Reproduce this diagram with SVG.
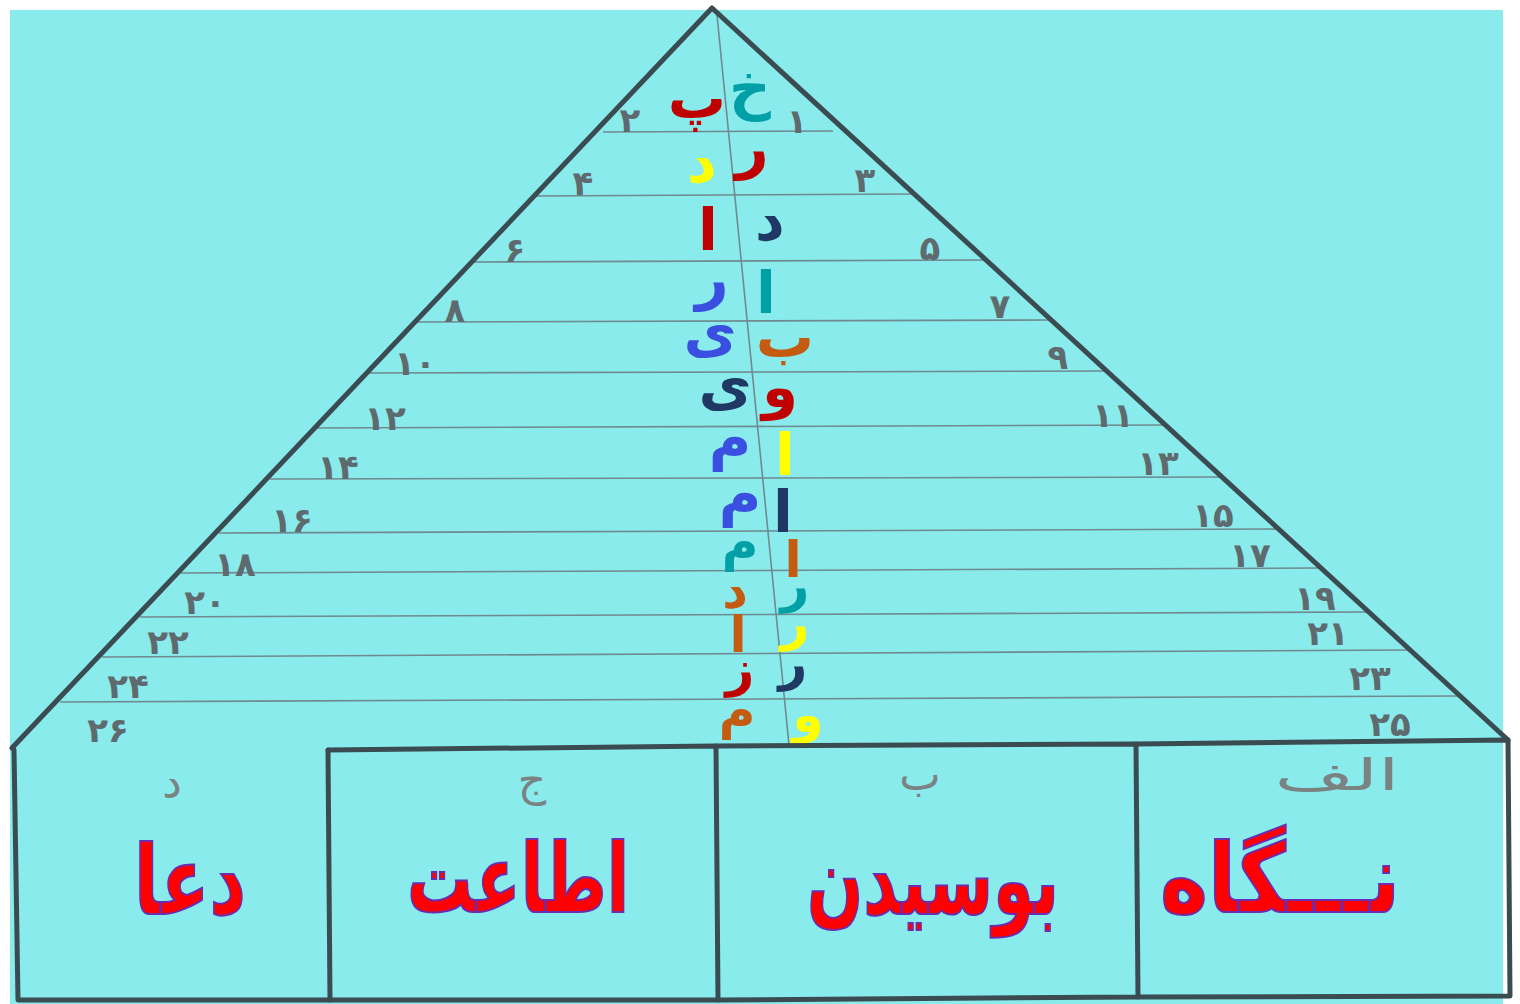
<svg xmlns="http://www.w3.org/2000/svg" width="1520" height="1004" viewBox="0 0 1520 1004">
<style>
.edge{fill:none;stroke:#3b4b52;stroke-width:5;stroke-linecap:round;stroke-linejoin:round}
.rule{fill:none;stroke:#6f8a90;stroke-width:1.6}
.num{font-family:"DejaVu Sans",sans-serif;font-weight:bold;font-size:34px;fill:#5e6a6e;text-anchor:middle}
.lt{font-family:"DejaVu Sans",sans-serif;font-weight:bold;font-size:58px;text-anchor:middle}
.sm{font-size:50px}
.hand{font-family:"DejaVu Sans",sans-serif;font-size:44px;fill:#7a8282;text-anchor:middle}
.big{font-family:"DejaVu Sans",sans-serif;font-weight:bold;font-size:96px;fill:#ff0000;stroke:#6a2cb0;stroke-width:2;text-anchor:middle}
.r{fill:#c00000}.t{fill:#00a0a6}.y{fill:#ffff00}.n{fill:#1f3864}.b{fill:#3a4fe0}.o{fill:#c55a11}
</style>
<rect width="1520" height="1004" fill="#ffffff"/>
<rect x="10" y="10" width="1493" height="994" fill="#89ebeb"/>
<g id="rules">
<line class="rule" x1="603" y1="132" x2="833" y2="131"/>
<line class="rule" x1="536" y1="196" x2="916" y2="194"/>
<line class="rule" x1="473" y1="262" x2="986" y2="260"/>
<line class="rule" x1="417" y1="322" x2="1051" y2="320"/>
<line class="rule" x1="369" y1="373" x2="1106" y2="371"/>
<line class="rule" x1="317" y1="428" x2="1165" y2="425"/>
<line class="rule" x1="270" y1="479" x2="1221" y2="477"/>
<line class="rule" x1="219" y1="533" x2="1277" y2="529"/>
<line class="rule" x1="181" y1="573" x2="1319" y2="568"/>
<line class="rule" x1="140" y1="617" x2="1367" y2="612"/>
<line class="rule" x1="102" y1="657" x2="1409" y2="650"/>
<line class="rule" x1="60" y1="702" x2="1458" y2="696"/>
<line class="rule" x1="717" y1="15" x2="789" y2="745" stroke-width="2.2"/>
</g>
<g id="pyramid">
<polyline class="edge" points="12,748 712,8 1508,740"/>
</g>
<g id="numbers-left">
<text class="num" x="630" y="132">۲</text>
<text class="num" x="583" y="195">۴</text>
<text class="num" x="515" y="262">۶</text>
<text class="num" x="455" y="322">۸</text>
<text class="num" x="415" y="375">۱۰</text>
<text class="num" x="385" y="430">۱۲</text>
<text class="num" x="338" y="479">۱۴</text>
<text class="num" x="292" y="532">۱۶</text>
<text class="num" x="235" y="576">۱۸</text>
<text class="num" x="205" y="614">۲۰</text>
<text class="num" x="168" y="654">۲۲</text>
<text class="num" x="128" y="698">۲۴</text>
<text class="num" x="108" y="742">۲۶</text>
</g>
<g id="numbers-right">
<text class="num" x="797" y="133">۱</text>
<text class="num" x="865" y="192">۳</text>
<text class="num" x="930" y="260">۵</text>
<text class="num" x="1000" y="318">۷</text>
<text class="num" x="1058" y="369">۹</text>
<text class="num" x="1113" y="427">۱۱</text>
<text class="num" x="1158" y="475">۱۳</text>
<text class="num" x="1213" y="527">۱۵</text>
<text class="num" x="1250" y="567">۱۷</text>
<text class="num" x="1315" y="610">۱۹</text>
<text class="num" x="1328" y="645">۲۱</text>
<text class="num" x="1370" y="690">۲۳</text>
<text class="num" x="1390" y="736">۲۵</text>
</g>
<g id="letters-left">
<text class="lt r" x="697" y="118">پ</text>
<text class="lt y" x="702" y="182">د</text>
<text class="lt r" x="708" y="250">ا</text>
<text class="lt b" x="712" y="298">ر</text>
<text class="lt b" x="710" y="352">ی</text>
<text class="lt n" x="725" y="405">ی</text>
<text class="lt b" x="730" y="458">م</text>
<text class="lt b" x="740" y="514">م</text>
<text class="lt sm t" x="740" y="560">م</text>
<text class="lt sm o" x="735" y="608">د</text>
<text class="lt sm o" x="738" y="652">ا</text>
<text class="lt sm r" x="740" y="686">ز</text>
<text class="lt sm o" x="737" y="728">م</text>
</g>
<g id="letters-right">
<text class="lt t" x="750" y="108">خ</text>
<text class="lt r" x="752" y="167">ر</text>
<text class="lt n" x="770" y="240">د</text>
<text class="lt t" x="766" y="313">ا</text>
<text class="lt o" x="785" y="357">ب</text>
<text class="lt r" x="780" y="407">و</text>
<text class="lt y" x="785" y="475">ا</text>
<text class="lt n" x="783" y="532">ا</text>
<text class="lt sm o" x="793" y="577">ا</text>
<text class="lt sm t" x="795" y="602">ر</text>
<text class="lt sm y" x="795" y="640">ر</text>
<text class="lt sm n" x="793" y="680">ر</text>
<text class="lt sm y" x="808" y="732">و</text>
</g>
<g id="box-dua">
<polyline class="edge" points="14,750 18,1000 330,1000 328,750"/>
<text class="hand" x="172" y="798">د</text>
<text class="big" x="190" y="914" textLength="112" lengthAdjust="spacingAndGlyphs">دعا</text>
</g>
<g id="box-etaat">
<polyline class="edge" points="328,750 716,746 718,1000 330,1000"/>
<text class="hand" x="532" y="795">ج</text>
<text class="big" x="518" y="912" textLength="222" lengthAdjust="spacingAndGlyphs">اطاعت</text>
</g>
<g id="box-boosidan">
<polyline class="edge" points="716,746 1136,744 1138,997 718,1000"/>
<text class="hand" x="920" y="790">ب</text>
<text class="big" x="933" y="914" textLength="252" lengthAdjust="spacingAndGlyphs">بوسیدن</text>
</g>
<g id="box-negah">
<polyline class="edge" points="1136,744 1508,740 1510,996 1138,997"/>
<text class="hand" x="1337" y="790" textLength="125" lengthAdjust="spacingAndGlyphs">الف</text>
<text class="big" x="1280" y="912" textLength="240" lengthAdjust="spacingAndGlyphs">نـــگاه</text>
</g>
</svg>
